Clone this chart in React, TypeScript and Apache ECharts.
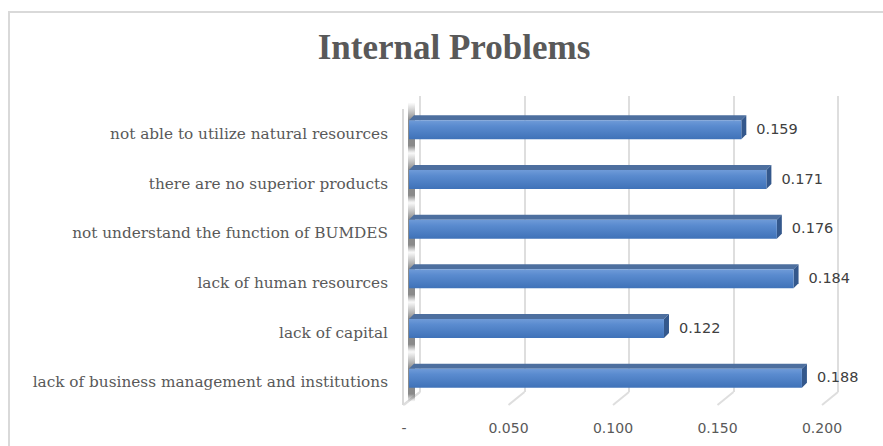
import React, { useEffect, useRef } from "react";
import * as echarts from "echarts";

// bottom-to-top order (ECharts category axis starts at the bottom)
const categories = [
  "lack of business management and institutions",
  "lack of capital",
  "lack of human resources",
  "not understand the function of BUMDES",
  "there are no superior products",
  "not able to utilize natural resources",
];
const values = [0.188, 0.122, 0.184, 0.176, 0.171, 0.159];
const ticks = [0, 0.05, 0.1, 0.15, 0.2];
const title = "Internal Problems";

export default function App() {
  const ref = useRef<HTMLDivElement>(null);
  useEffect(() => {
    if (!ref.current) return;
    const chart = echarts.init(ref.current, undefined, { renderer: "svg" });
    const serif = "'DejaVu Serif', serif";
    const sans = "'DejaVu Sans', sans-serif";
    const barH = 19;
    const fdx = 5, fdy = -4; // bar front plane offset
    const ddx = 5, ddy = -5; // bar depth
    const option: any = {
      animation: false,
      backgroundColor: "#ffffff",
      title: {
        text: title,
        left: 449,
        textAlign: "center",
        top: 25,
        textStyle: { fontFamily: "'Liberation Serif', serif", fontWeight: "bold", fontSize: 35, color: "#595959" },
      },
      graphic: [
        { type: "rect", shape: { x: 9, y: 12, width: 890, height: 460 }, style: { fill: "none", stroke: "#d9d9d9", lineWidth: 2 }, z: 0 },
        { type: "line", shape: { x1: 403, y1: 109, x2: 403, y2: 405 }, style: { stroke: "#d9d9d9", lineWidth: 2 }, z: 1 },
        { type: "line", shape: { x1: 403, y1: 405, x2: 420, y2: 392 }, style: { stroke: "#d9d9d9", lineWidth: 2 }, z: 1 },
      ],
      grid: [
        { left: 404, top: 109, width: 418, height: 298 },
        { left: 420, top: 96, width: 418, height: 296 },
      ],
      xAxis: [
        {
          gridIndex: 0, type: "value", min: 0, max: 0.2, interval: 0.05,
          axisLine: { show: false }, axisTick: { show: false }, splitLine: { show: false },
          axisLabel: {
            margin: 14, color: "#595959", fontSize: 14, fontFamily: sans,
            formatter: (v: number) => (v === 0 ? "-" : v.toFixed(3)),
          },
        },
        {
          gridIndex: 1, type: "value", min: 0, max: 0.2, interval: 0.05,
          axisLine: { show: false }, axisTick: { show: false }, axisLabel: { show: false },
          splitLine: { show: true, lineStyle: { color: "#dedede", width: 2 } },
        },
      ],
      yAxis: [
        {
          gridIndex: 0, type: "category", data: categories,
          axisLine: { show: false }, axisTick: { show: false }, splitLine: { show: false },
          axisLabel: { margin: 16, color: "#595959", fontSize: 15.3, fontFamily: serif },
        },
        {
          gridIndex: 1, type: "category", data: categories, show: false,
        },
      ],
      series: [
        {
          type: "custom",
          xAxisIndex: 0, yAxisIndex: 0,
          z: 3,
          data: ticks.map((t) => [t]),
          encode: { x: 0 },
          renderItem: (params: any, api: any) => {
            const cs = params.coordSys;
            const x = cs.x + (api.value(0) - 0) / 0.2 * cs.width;
            const yb = cs.y + cs.height - 2;
            return {
              type: "line",
              shape: { x1: x, y1: yb, x2: x + 16, y2: yb - 13 },
              style: { stroke: "#dedede", lineWidth: 2 },
            };
          },
        },
        {
          type: "custom",
          xAxisIndex: 0, yAxisIndex: 0,
          z: 5,
          data: values.map((v, i) => [v, i]),
          encode: { x: 0, y: 1 },
          renderItem: (params: any, api: any) => {
            const v = api.value(0);
            const c = api.value(1);
            const p0 = api.coord([0, c]);
            const p1 = api.coord([v, c]);
            const x = p0[0] + fdx;
            const y = p0[1] + fdy - barH / 2;
            const w = p1[0] - p0[0];
            return {
              type: "group",
              children: [
                {
                  type: "rect",
                  shape: { x: p0[0] + 4, y: y - 18, width: 7, height: barH + 32 },
                  style: {
                    fill: new echarts.graphic.LinearGradient(0, 0, 0, 1, [
                      { offset: 0, color: "rgba(80,80,80,0)" },
                      { offset: 0.35, color: "rgba(60,60,60,0.6)" },
                      { offset: 0.85, color: "rgba(60,60,60,0.6)" },
                      { offset: 1, color: "rgba(80,80,80,0)" },
                    ]),
                  },
                },
                {
                  type: "polygon",
                  shape: { points: [[x, y], [x + w, y], [x + w + ddx, y + ddy], [x + ddx, y + ddy]] },
                  style: { fill: "#4d6f9f" },
                },
                {
                  type: "polygon",
                  shape: { points: [[x + w, y], [x + w + ddx, y + ddy], [x + w + ddx, y + barH + ddy], [x + w, y + barH]] },
                  style: { fill: "#34588c" },
                },
                {
                  type: "rect",
                  shape: { x, y, width: w, height: barH },
                  style: {
                    fill: new echarts.graphic.LinearGradient(0, 0, 0, 1, [
                      { offset: 0, color: "#6f9bd8" },
                      { offset: 0.3, color: "#5a8bcf" },
                      { offset: 1, color: "#3f72b8" },
                    ]),
                  },
                },
                {
                  type: "text",
                  style: {
                    x: x + w + ddx + 10,
                    y: y + barH / 2 - 1,
                    text: v.toFixed(3),
                    fill: "#404040",
                    fontSize: 14.5,
                    fontFamily: sans,
                    verticalAlign: "middle",
                    align: "left",
                  },
                },
              ],
            };
          },
        },
      ],
    };
    chart.setOption(option);
    return () => chart.dispose();
  }, []);
  return (
    <div
      ref={ref}
      style={{ position: "absolute", left: 0, top: 0, width: 883, height: 446 }}
    />
  );
}
